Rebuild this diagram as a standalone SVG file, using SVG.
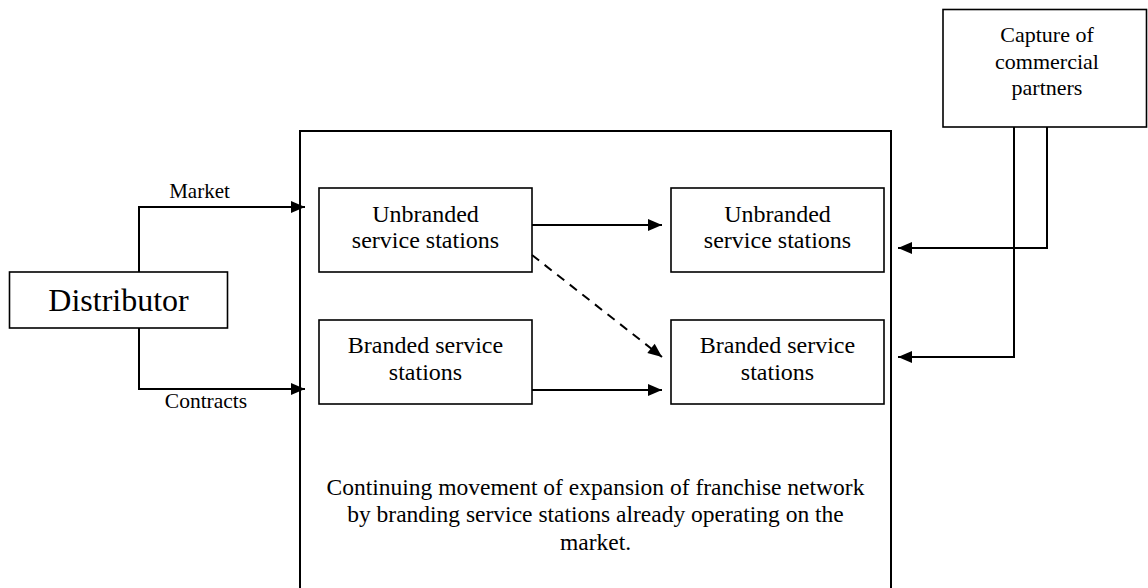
<svg xmlns="http://www.w3.org/2000/svg" width="1148" height="588" viewBox="0 0 1148 588">
<style>
.box{fill:#fff;stroke:#000;stroke-width:1.6}
.big{fill:none;stroke:#000;stroke-width:2}
.t{font-family:"Liberation Serif","Times New Roman",serif;fill:#000;text-anchor:middle}
.s{font-size:24px}
.m{font-size:23.5px}
.c{stroke:#000;stroke-width:2;fill:none}
.d{stroke-dasharray:9 7}
</style>
<defs>
<marker id="ah" markerUnits="userSpaceOnUse" markerWidth="16" markerHeight="14" refX="15" refY="7" orient="auto">
<path d="M1,1 L15,7 L1,13 Z" fill="#000"/>
</marker>
</defs>
<rect width="1148" height="588" fill="#fff"/>
<g id="network">
<rect class="big" x="300" y="131" width="591" height="470"/>
<text class="t m" x="595.5" y="495">Continuing movement of expansion of franchise network</text>
<text class="t m" x="595.5" y="522">by branding service stations already operating on the</text>
<text class="t m" x="595.5" y="550">market.</text>
</g>
<g id="distributor">
<rect class="box" x="9.5" y="272" width="218" height="56"/>
<text class="t" x="118.5" y="311" font-size="32">Distributor</text>
</g>
<g id="unbranded1">
<rect class="box" x="319" y="188" width="213" height="84"/>
<text class="t s" x="425.5" y="222">Unbranded</text>
<text class="t s" x="425.5" y="248">service stations</text>
</g>
<g id="branded1">
<rect class="box" x="319" y="320" width="213" height="84"/>
<text class="t s" x="425.5" y="353">Branded service</text>
<text class="t s" x="425.5" y="380">stations</text>
</g>
<g id="unbranded2">
<rect class="box" x="671" y="188" width="213" height="84"/>
<text class="t s" x="777.5" y="222">Unbranded</text>
<text class="t s" x="777.5" y="248">service stations</text>
</g>
<g id="branded2">
<rect class="box" x="671" y="320" width="213" height="84"/>
<text class="t s" x="777.5" y="353">Branded service</text>
<text class="t s" x="777.5" y="380">stations</text>
</g>
<g id="capture">
<rect class="box" x="943" y="9.5" width="203.5" height="117.5"/>
<text class="t" x="1047" y="42" font-size="22">Capture of</text>
<text class="t" x="1047" y="69" font-size="22">commercial</text>
<text class="t" x="1047" y="95" font-size="22">partners</text>
</g>
<g id="connectors">
<polyline class="c" points="139,272 139,207 305,207" marker-end="url(#ah)"/>
<polyline class="c" points="139,328 139,389 305,389" marker-end="url(#ah)"/>
<text class="t" x="199.5" y="198" font-size="21">Market</text>
<text class="t" x="206" y="408" font-size="21.5">Contracts</text>
<line class="c" x1="532" y1="225" x2="662" y2="225" marker-end="url(#ah)"/>
<line class="c" x1="532" y1="390" x2="662" y2="390" marker-end="url(#ah)"/>
<line class="c d" x1="532" y1="255" x2="662" y2="357" marker-end="url(#ah)"/>
<polyline class="c" points="1047,127 1047,248 898,248" marker-end="url(#ah)"/>
<polyline class="c" points="1014,127 1014,357 898,357" marker-end="url(#ah)"/>
</g>
</svg>
